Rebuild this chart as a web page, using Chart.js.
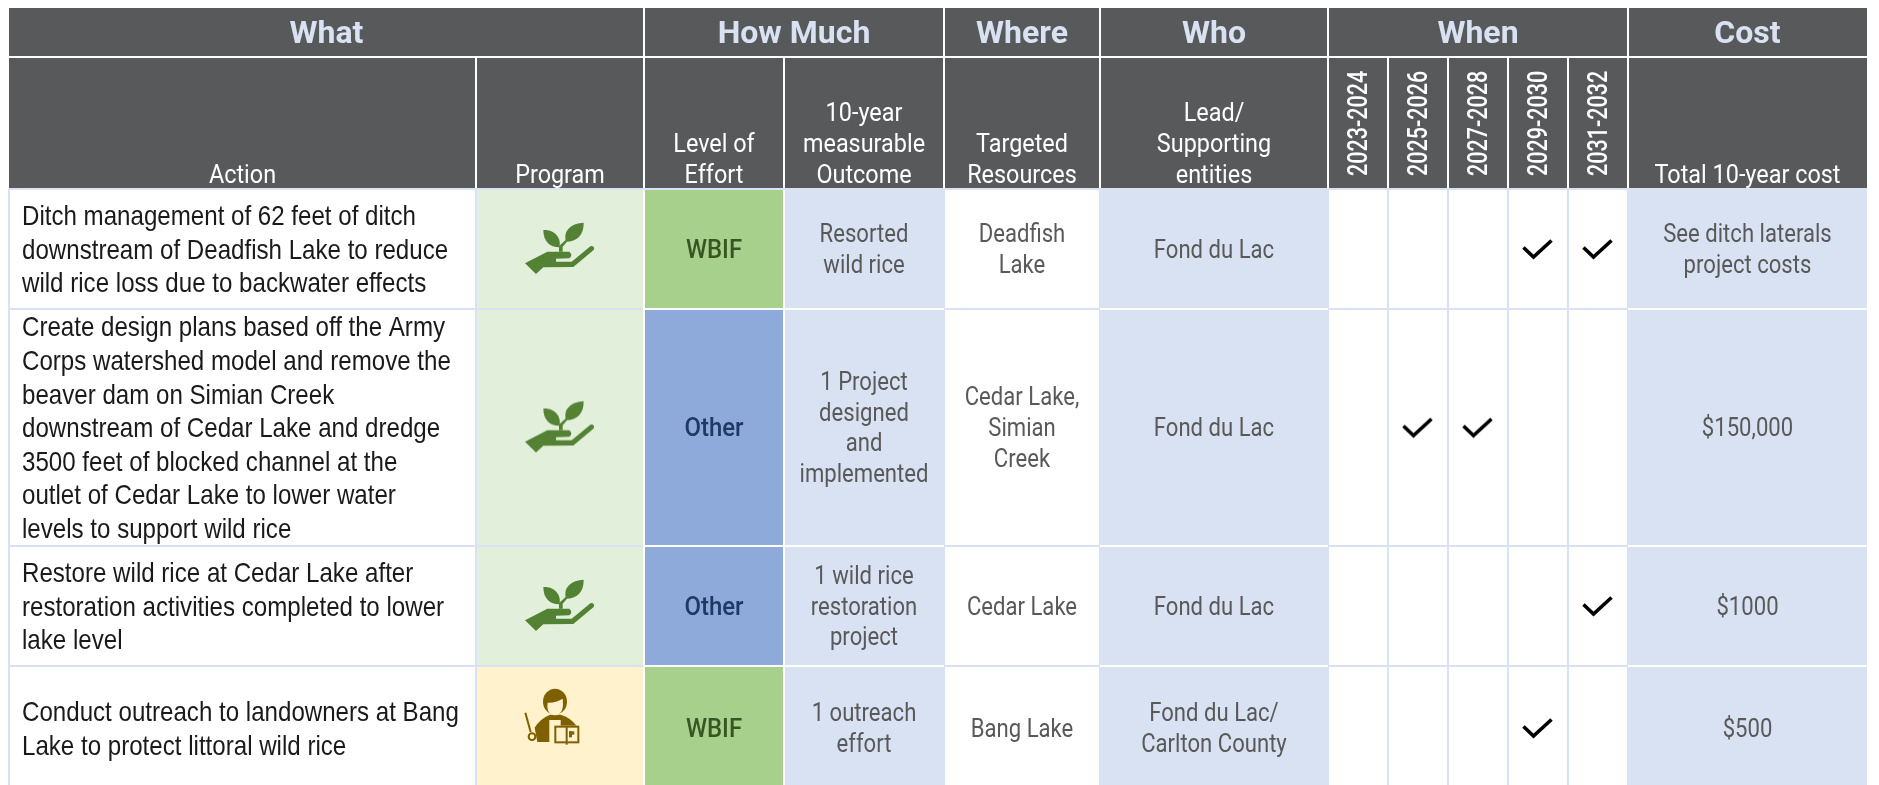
<!DOCTYPE html>
<html>
<head>
<meta charset="utf-8">
<title>Wild rice actions</title>
<style>
  html, body { margin: 0; padding: 0; background: #ffffff; }
  canvas { display: block; }
</style>
<script src="https://cdn.jsdelivr.net/npm/chart.js@4"></script>
</head>
<body>
<canvas id="tableChart" width="1879" height="785"></canvas>
<script>
// data
const topHeaders = ['What', 'How Much', 'Where', 'Who', 'When', 'Cost'];
const subHeaders = [
  ['Action'], ['Program'], ['Level of', 'Effort'], ['10-year', 'measurable', 'Outcome'],
  ['Targeted', 'Resources'], ['Lead/', 'Supporting', 'entities'],
];
const periods = ['2023-2024', '2025-2026', '2027-2028', '2029-2030', '2031-2032'];
const costHeader = 'Total 10-year cost';

const actions = [
  ['Ditch management of 62 feet of ditch', 'downstream of Deadfish Lake to reduce', 'wild rice loss due to backwater effects'],
  ['Create design plans based off the Army', 'Corps watershed model and remove the', 'beaver dam on Simian Creek', 'downstream of Cedar Lake and dredge', '3500 feet of blocked channel at the', 'outlet of Cedar Lake to lower water', 'levels to support wild rice'],
  ['Restore wild rice at Cedar Lake after', 'restoration activities completed to lower', 'lake level'],
  ['Conduct outreach to landowners at Bang', 'Lake to protect littoral wild rice'],
];
const programs = ['land', 'land', 'land', 'outreach'];
const efforts = ['WBIF', 'Other', 'Other', 'WBIF'];
const outcomes = [
  ['Resorted', 'wild rice'],
  ['1 Project', 'designed', 'and', 'implemented'],
  ['1 wild rice', 'restoration', 'project'],
  ['1 outreach', 'effort'],
];
const resources = [['Deadfish', 'Lake'], ['Cedar Lake,', 'Simian', 'Creek'], ['Cedar Lake'], ['Bang Lake']];
const leads = [['Fond du Lac'], ['Fond du Lac'], ['Fond du Lac'], ['Fond du Lac/', 'Carlton County']];
const costs = [['See ditch laterals', 'project costs'], ['$150,000'], ['$1000'], ['$500']];
// for each action, which periods are ticked
const ticked = [[3, 4], [1, 2], [4], [3]];

// table grid, used by the two axes
const columnEdges = [9, 476, 644, 784, 944, 1100, 1328, 1388, 1448, 1508, 1568, 1628, 1867];
const rowEdges = [8, 57, 189, 309, 546, 666, 790];
const topSpans = [[0, 2], [2, 4], [4, 5], [5, 6], [6, 11], [11, 12]];

const COL = { action: 0, program: 1, effort: 2, outcome: 3, resource: 4, lead: 5, when: 6, cost: 11 };
const BODY_ROW = 2;

const headBg = '#58595b';
const paleBlue = '#d9e2f3';
const programBg = { land: '#e2efda', outreach: '#fff2cc' };
const effortBg = { WBIF: '#a8d08d', Other: '#8eaadb' };
const effortInk = { WBIF: '#375623', Other: '#1f3864' };

const fontHead = '"Roboto", sans-serif';
const fontBody = '"Liberation Sans", sans-serif';

// axis whose value is a column/row index, stretched over the uneven grid
class GridScale extends Chart.LinearScale {
  getPixelForValue(value) {
    const edges = this.options.edges;
    const i = Math.max(0, Math.min(edges.length - 2, Math.floor(value)));
    return edges[i] + (edges[i + 1] - edges[i]) * (value - i);
  }
}
GridScale.id = 'grid';
GridScale.defaults = {};
Chart.register(GridScale);

function makeCanvas(w, h, draw) {
  const c = document.createElement('canvas');
  c.width = w;
  c.height = h;
  draw(c.getContext('2d'));
  return c;
}

const checkIcon = makeCanvas(40, 30, function (g) {
  g.strokeStyle = '#000000';
  g.lineWidth = 3.6;
  g.lineCap = 'butt';
  g.lineJoin = 'miter';
  g.beginPath();
  g.moveTo(5.5, 13.5);
  g.lineTo(15.5, 23);
  g.lineTo(33.5, 6.5);
  g.stroke();
});

// hand holding a seedling, traced in 3x zoom units
const landIcon = makeCanvas(90, 70, function (g) {
  g.translate(45, 35);
  g.scale(1 / 3, 1 / 3);
  g.translate(-300, -117);
  g.fillStyle = '#548235';
  g.beginPath();
  g.moveTo(250, 60);
  g.bezierCurveTo(285, 58, 305, 85, 298, 112);
  g.bezierCurveTo(270, 112, 250, 95, 250, 60);
  g.closePath();
  g.fill();
  g.beginPath();
  g.moveTo(371, 38);
  g.bezierCurveTo(372, 75, 350, 95, 318, 95);
  g.bezierCurveTo(308, 60, 335, 40, 371, 38);
  g.closePath();
  g.fill();
  g.beginPath();
  g.moveTo(297, 125);
  g.lineTo(297, 108);
  g.lineTo(317, 90);
  g.lineTo(321, 95);
  g.lineTo(308, 110);
  g.lineTo(308, 125);
  g.closePath();
  g.fill();
  g.beginPath();
  g.moveTo(195, 160);
  g.lineTo(262, 125);
  g.lineTo(328, 125);
  g.quadraticCurveTo(340, 135, 328, 145);
  g.lineTo(288, 146);
  g.lineTo(288, 155);
  g.lineTo(335, 155);
  g.lineTo(392, 108);
  g.quadraticCurveTo(406, 108, 401, 120);
  g.lineTo(340, 171);
  g.lineTo(250, 172);
  g.lineTo(228, 192);
  g.closePath();
  g.fill();
});

// presenter with a pointer and an open book, traced in 3x zoom units
const outreachIcon = makeCanvas(120, 120, function (g) {
  const ink = '#7f6000';
  const cream = programBg.outreach;
  g.translate(60, 60);
  g.scale(1 / 3, 1 / 3);
  g.translate(-180, -166);
  g.fillStyle = ink;
  g.strokeStyle = ink;
  // hair
  g.beginPath();
  g.ellipse(165, 87, 36, 39, 0, 0, Math.PI * 2);
  g.fill();
  // jacket
  g.beginPath();
  g.moveTo(112, 208);
  g.lineTo(104, 165);
  g.quadraticCurveTo(120, 138, 150, 126);
  g.lineTo(182, 126);
  g.quadraticCurveTo(212, 135, 228, 158);
  g.lineTo(228, 208);
  g.closePath();
  g.fill();
  // face and shirt
  g.fillStyle = cream;
  g.beginPath();
  g.moveTo(143, 90);
  g.quadraticCurveTo(165, 92, 188, 78);
  g.quadraticCurveTo(194, 125, 165, 128);
  g.quadraticCurveTo(138, 125, 143, 90);
  g.closePath();
  g.fill();
  g.fillRect(148, 142, 34, 68);
  // pointer and hand
  g.lineWidth = 6;
  g.beginPath();
  g.moveTo(76, 120);
  g.lineTo(92, 178);
  g.stroke();
  g.beginPath();
  g.arc(96, 192, 10, 0, Math.PI * 2);
  g.fillStyle = cream;
  g.fill();
  g.stroke();
  // book
  g.fillStyle = cream;
  g.fillRect(163, 159, 75, 53);
  g.lineWidth = 6;
  g.strokeRect(166, 162, 69, 47);
  g.beginPath();
  g.moveTo(200, 162);
  g.lineTo(200, 216);
  g.stroke();
  g.fillStyle = ink;
  g.fillRect(207, 176, 16, 10);
  g.fillRect(207, 176, 9, 18);
});

const programIcon = { land: landIcon, outreach: outreachIcon };

function drawLines(g, lines, x, y, style) {
  g.save();
  g.font = style.font;
  g.fillStyle = style.color;
  g.textAlign = style.align || 'center';
  g.textBaseline = 'middle';
  lines.forEach(function (line, i) {
    g.save();
    g.translate(x, y + i * style.pitch);
    g.scale(style.stretch || 1, 1);
    g.fillText(line, 0, 0);
    g.restore();
  });
  g.restore();
}

// lines centred on a point
function centred(g, lines, x, y, style) {
  drawLines(g, lines, x, y - (lines.length - 1) * style.pitch / 2, style);
}

const tablePlugin = {
  id: 'tablePlugin',
  beforeDatasetsDraw(chart) {
    const g = chart.ctx;
    const xs = chart.scales.x;
    const ys = chart.scales.y;
    const box = function (c0, c1, r0, r1, fill) {
      const l = xs.getPixelForValue(c0);
      const t = ys.getPixelForValue(r0);
      g.fillStyle = fill;
      g.fillRect(l, t, xs.getPixelForValue(c1) - l, ys.getPixelForValue(r1) - t);
    };
    // body fills
    actions.forEach(function (a, i) {
      const r = BODY_ROW + i;
      box(COL.program, COL.program + 1, r, r + 1, programBg[programs[i]]);
      box(COL.effort, COL.effort + 1, r, r + 1, effortBg[efforts[i]]);
      box(COL.outcome, COL.outcome + 1, r, r + 1, paleBlue);
      box(COL.lead, COL.lead + 1, r, r + 1, paleBlue);
      box(COL.cost, COL.cost + 1, r, r + 1, paleBlue);
    });
    // body rules
    const rowCount = rowEdges.length - 1;
    const vRule = function (c, r0, r1, color) {
      const px = xs.getPixelForValue(c);
      const t = ys.getPixelForValue(r0);
      g.fillStyle = color;
      g.fillRect(px - 1, t, 2, ys.getPixelForValue(r1) - t);
    };
    const hRule = function (r, c0, c1, color) {
      const py = ys.getPixelForValue(r);
      const l = xs.getPixelForValue(c0);
      g.fillStyle = color;
      g.fillRect(l, py - 1, xs.getPixelForValue(c1) - l, 2);
    };
    for (let r = BODY_ROW; r <= rowCount - 1; r++) hRule(r, 0, columnEdges.length - 1, paleBlue);
    for (let c = 0; c < columnEdges.length - 1; c++) vRule(c, BODY_ROW, rowCount, paleBlue);
    vRule(COL.effort, BODY_ROW, rowCount, '#ffffff');
    vRule(COL.effort + 1, BODY_ROW, rowCount, '#ffffff');
    for (let r = BODY_ROW + 1; r < rowCount; r++) {
      [COL.effort, COL.outcome, COL.lead, COL.cost].forEach(function (c) {
        hRule(r, c, c + 1, '#ffffff');
      });
    }

    // header block
    box(0, columnEdges.length - 1, 0, 2, headBg);
    hRule(1, 0, columnEdges.length - 1, '#ffffff');
    topSpans.slice(0, -1).forEach(function (s) { vRule(s[1], 0, 2, '#ffffff'); });
    for (let c = 1; c < columnEdges.length - 1; c++) vRule(c, 1, 2, '#ffffff');
    hRule(BODY_ROW, 0, columnEdges.length - 1, paleBlue);
  },
  afterDatasetsDraw(chart) {
    const g = chart.ctx;
    const xs = chart.scales.x;
    const ys = chart.scales.y;
    const midX = function (c0, c1) { return (xs.getPixelForValue(c0) + xs.getPixelForValue(c1)) / 2; };
    const midY = function (r) { return ys.getPixelForValue(r + 0.5); };

    const topStyle = { font: 'bold 32px ' + fontHead, color: paleBlue, pitch: 0 };
    const subStyle = { font: '26px ' + fontHead, color: '#ffffff', pitch: 30.6, stretch: 0.9 };
    const cellStyle = { font: '26px ' + fontHead, color: '#595959', pitch: 30.8, stretch: 0.85 };
    const actionStyle = { font: '28px ' + fontBody, color: '#1a1a1a', pitch: 33.6, align: 'left', stretch: 0.861 };

    topHeaders.forEach(function (t, i) {
      centred(g, [t], midX(topSpans[i][0], topSpans[i][1]), midY(0) + 2, topStyle);
    });

    const subBottom = ys.getPixelForValue(2) - 13;
    subHeaders.forEach(function (lines, c) {
      drawLines(g, lines, midX(c, c + 1), subBottom - (lines.length - 1) * subStyle.pitch, subStyle);
    });
    drawLines(g, [costHeader], midX(COL.cost, COL.cost + 1), subBottom, subStyle);

    periods.forEach(function (p, i) {
      g.save();
      g.translate(midX(COL.when + i, COL.when + i + 1) + 2, ys.getPixelForValue(2) - 13);
      g.rotate(-Math.PI / 2);
      g.scale(0.77, 1);
      g.font = '500 28px ' + fontHead;
      g.fillStyle = '#ffffff';
      g.textAlign = 'left';
      g.textBaseline = 'middle';
      g.fillText(p, 0, 0);
      g.restore();
    });

    actions.forEach(function (lines, i) {
      const r = BODY_ROW + i;
      const y = midY(r) + 2;
      centred(g, lines, xs.getPixelForValue(0) + 13, y, actionStyle);
      centred(g, [efforts[i]], midX(COL.effort, COL.effort + 1), y,
        { font: '500 26px ' + fontHead, color: effortInk[efforts[i]], pitch: 0, stretch: 0.92 });
      centred(g, outcomes[i], midX(COL.outcome, COL.outcome + 1), y, cellStyle);
      centred(g, resources[i], midX(COL.resource, COL.resource + 1), y, cellStyle);
      centred(g, leads[i], midX(COL.lead, COL.lead + 1), y, cellStyle);
      centred(g, costs[i], midX(COL.cost, COL.cost + 1), y, cellStyle);
    });
  },
};

const checkPoints = [];
ticked.forEach(function (list, i) {
  list.forEach(function (p) {
    checkPoints.push({ x: COL.when + p + 0.5, y: BODY_ROW + i + 0.5 });
  });
});
const programPoints = programs.map(function (p, i) {
  return { x: COL.program + 0.5, y: BODY_ROW + i + 0.5 };
});

new Chart(document.getElementById('tableChart').getContext('2d'), {
  type: 'scatter',
  data: {
    datasets: [
      {
        label: 'Program',
        data: programPoints,
        pointStyle: programs.map(function (p) { return programIcon[p]; }),
        pointRadius: 10,
      },
      {
        label: 'Scheduled',
        data: checkPoints,
        pointStyle: checkIcon,
        pointRadius: 10,
      },
    ],
  },
  options: {
    responsive: false,
    animation: false,
    events: [],
    layout: { padding: 0 },
    plugins: { legend: { display: false }, tooltip: { enabled: false } },
    scales: {
      x: { type: 'grid', display: false, min: 0, max: columnEdges.length - 1, edges: columnEdges },
      y: { type: 'grid', display: false, min: 0, max: rowEdges.length - 1, edges: rowEdges },
    },
  },
  plugins: [tablePlugin],
});
</script>
</body>
</html>
